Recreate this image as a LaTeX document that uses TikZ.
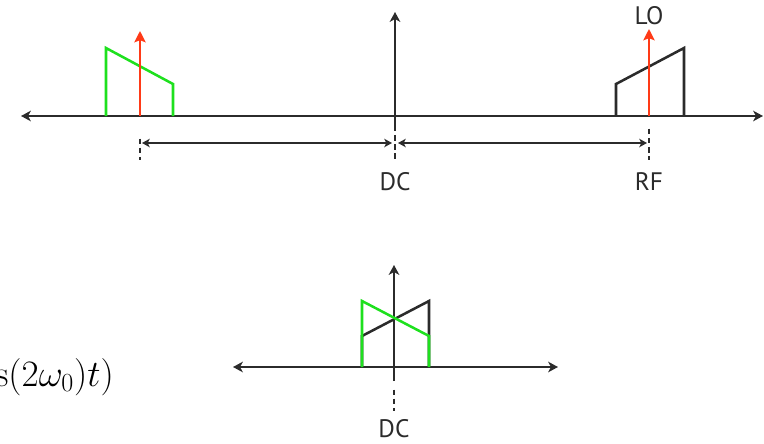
\documentclass[tikz,border=0pt]{standalone}
\usepackage{fix-cm}
\usepackage{fontspec}
\setsansfont{PT Sans}
\usetikzlibrary{arrows.meta}

\definecolor{axisgray}{HTML}{2B2B2B}
\definecolor{specgreen}{HTML}{1EE01E}
\definecolor{lored}{HTML}{FF3A17}

\tikzstyle{every node}=[font=\sffamily\fontsize{18}{21}\selectfont, text=axisgray]
\tikzset{
    axis/.style={draw=axisgray, line width=1.6pt},
    axistip/.style={-{Stealth[length=7pt,width=7.5pt,inset=2pt]}},
    span/.style={draw=axisgray, line width=1.1pt, {Stealth[length=5.5pt,width=6pt,inset=1.5pt]}-{Stealth[length=5.5pt,width=6pt,inset=1.5pt]}},
    marker/.style={draw=axisgray, line width=1.2pt, dash pattern=on 4pt off 2.5pt},
    sideband/.style={line width=1.8pt, line join=miter},
    carrier/.style={draw=lored, line width=1.8pt, -{Stealth[length=8pt,width=8pt,inset=1.5pt]}}
}

\begin{document}
\begin{tikzpicture}[x=0.025cm, y=-0.025cm]
            \useasboundingbox (0,0) rectangle (764,443);

            % 上图：混频前的频谱
            \begin{scope}
                \coordinate (axL) at (21,116);
                \coordinate (axR) at (763,116);
                \coordinate (dc) at (395,116);
                \coordinate (lo) at (649,116);
                \coordinate (img) at (140,116);
                \draw[axis, {Stealth[length=7pt,width=7.5pt,inset=2pt]}-{Stealth[length=7pt,width=7.5pt,inset=2pt]}] (axL) -- (axR);
                \draw[axis, axistip] ([yshift=-7]dc) -- (395,12);
                % 镜像频带与射频频带
                \draw[sideband, specgreen] (106,116) -- (106,48) -- (173,84) -- (173,116);
                \draw[sideband, axisgray] (616,116) -- (616,84) -- (684,48) -- (684,116);
                \draw[carrier] (img) -- (140,31);
                \draw[carrier] (lo) -- (649,29);
                \node (lolabel) at (649,16) {LO};
                % 频率间隔
                \draw[marker] ([yshift=-16]img) -- (140,160);
                \draw[marker] ([yshift=-7]dc) -- (395,160);
                \draw[marker] ([yshift=-9]lo) -- (649,160);
                \draw[span] (142,143) -- (392,143);
                \draw[span] (398,143) -- (647,143);
                \node (dclabel) at (395,182) {DC};
                \node (rflabel) at (649,182) {RF};
            \end{scope}

            % 下图：混频后的频谱
            \begin{scope}
                \coordinate (bL) at (233,367);
                \coordinate (bR) at (558,367);
                \coordinate (bdc) at (394,367);
                \draw[axis, {Stealth[length=7pt,width=7.5pt,inset=2pt]}-{Stealth[length=7pt,width=7.5pt,inset=2pt]}] (bL) -- (bR);
                \draw[axis, axistip] ([yshift=-10]bdc) -- (394,265);
                \draw[sideband, axisgray] (362,367) -- (362,336) -- (429,301) -- (429,367);
                \draw[sideband, specgreen] (362,367) -- (362,301) -- (429,336) -- (429,367);
                \draw[marker] ([yshift=-16]bdc) -- (394,411);
                \node (bdclabel) at (394,429) {DC};
                \node[anchor=base east, inner sep=0pt, font=\fontsize{26.5}{32}\selectfont, text=black] (mix) at (114,386) {$\mathrm{s}(2\omega_0)t)$};
            \end{scope}
        \end{tikzpicture}
\end{document}
